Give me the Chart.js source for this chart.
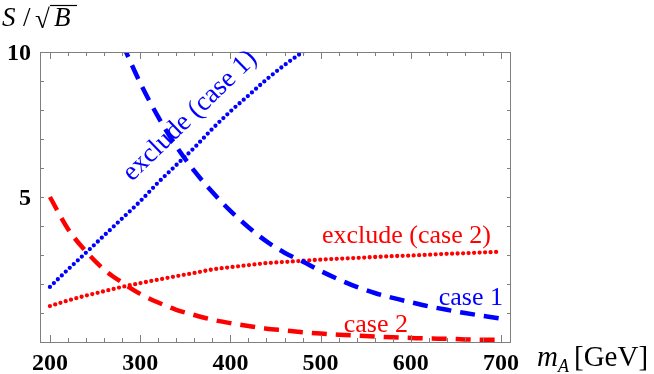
<!DOCTYPE html>
<html>
<head>
<meta charset="utf-8">
<script src="https://cdn.jsdelivr.net/npm/chart.js@4/dist/chart.umd.min.js"></script>
<style>
  html, body { margin: 0; padding: 0; background: #fff; }
  #wrap { width: 654px; height: 374px; position: relative; }
</style>
</head>
<body>
<div id="wrap"><canvas id="chart"></canvas></div>
<script>
// data
const massCase1 = [280, 300, 320, 340, 360, 380, 400, 420, 440, 460, 480, 500, 520, 540, 560, 580, 600, 620, 640, 660, 680, 700];
const case1 = [10.3, 8.94, 7.76, 6.75, 5.9, 5.17, 4.52, 3.96, 3.47, 3.08, 2.78, 2.45, 2.16, 1.9, 1.69, 1.52, 1.37, 1.23, 1.11, 1.0, 0.9, 0.81];

const massExcl1 = [200, 220, 240, 260, 280, 300, 320, 340, 360, 380, 400, 420, 440, 460, 480, 500];
const exclude1 = [1.9, 2.5, 3.08, 3.67, 4.26, 4.85, 5.5, 6.1, 6.7, 7.35, 7.95, 8.5, 9.05, 9.55, 10.0, 10.45];

const mass = [200, 220, 240, 260, 280, 300, 320, 340, 360, 380, 400, 420, 440, 460, 480, 500, 520, 540, 560, 580, 600, 620, 640, 660, 680, 700];
const case2 = [5.0, 3.9, 3.12, 2.5, 2.05, 1.66, 1.36, 1.11, 0.93, 0.77, 0.65, 0.55, 0.46, 0.4, 0.34, 0.29, 0.25, 0.22, 0.19, 0.16, 0.14, 0.12, 0.11, 0.09, 0.08, 0.07];
const exclude2 = [1.24, 1.43, 1.6, 1.75, 1.9, 2.03, 2.15, 2.27, 2.38, 2.5, 2.58, 2.65, 2.72, 2.76, 2.8, 2.84, 2.87, 2.9, 2.93, 2.96, 2.98, 3.01, 3.04, 3.06, 3.09, 3.11];

const xTickLabels = [200, 300, 400, 500, 600, 700];
const yTickLabels = [5, 10];

const BLUE = '#0000ff';
const RED = '#ff0000';
const FRAME = '#7f7f7f';

function pts(xs, ys) {
    return xs.map((x, i) => ({ x: x, y: ys[i] }));
}

// frame, inward ticks, tick labels and annotations
const decorations = {
    id: 'decorations',
    afterDatasetsDraw(chart) {
        const ctx = chart.ctx;
        const a = chart.chartArea;
        const xs = chart.scales.x, ys = chart.scales.y;
        ctx.save();
        ctx.strokeStyle = FRAME;
        ctx.lineWidth = 1;
        ctx.strokeRect(a.left + 0.5, a.top + 0.5, a.right - a.left - 1, a.bottom - a.top);

        ctx.beginPath();
        for (let v = 200; v <= 700; v += 20) {
            const px = Math.round(xs.getPixelForValue(v)) + 0.5;
            const len = v % 100 === 0 ? 7 : 4;
            ctx.moveTo(px, a.bottom); ctx.lineTo(px, a.bottom - len);
            ctx.moveTo(px, a.top); ctx.lineTo(px, a.top + len);
        }
        for (let v = 1; v < 10; v++) {
            const py = Math.round(ys.getPixelForValue(v)) + 0.5;
            ctx.moveTo(a.left, py); ctx.lineTo(a.left + 4, py);
            ctx.moveTo(a.right, py); ctx.lineTo(a.right - 4, py);
        }
        ctx.stroke();

        // tick labels
        ctx.fillStyle = '#000';
        ctx.font = 'bold 24px "Liberation Serif"';
        ctx.textBaseline = 'alphabetic';
        ctx.textAlign = 'center';
        xTickLabels.forEach(v => ctx.fillText(String(v), xs.getPixelForValue(v), 370));
        ctx.textAlign = 'right';
        yTickLabels.forEach(v => ctx.fillText(String(v), 31, ys.getPixelForValue(v) + 8));

        // axis titles
        ctx.textAlign = 'left';
        ctx.font = 'italic 27px "Liberation Serif"';
        ctx.fillText('S', 2, 26);
        ctx.font = '27px "Liberation Serif"';
        ctx.fillText('/', 23, 26);
        ctx.fillText('\u221A', 35, 28);
        ctx.font = 'italic 27px "Liberation Serif"';
        ctx.fillText('B', 54, 26);
        ctx.beginPath();
        ctx.strokeStyle = '#000';
        ctx.lineWidth = 1.2;
        ctx.moveTo(50, 5.5); ctx.lineTo(77, 5.5);
        ctx.stroke();

        ctx.font = 'italic 29px "Liberation Serif"';
        ctx.fillText('m', 537, 366);
        ctx.font = 'italic 18px "Liberation Serif"';
        ctx.fillText('A', 558, 372);
        ctx.font = '29px "Liberation Serif"';
        ctx.fillText('[GeV]', 574, 366);

        // curve annotations
        ctx.font = '26px "Liberation Serif"';
        ctx.fillStyle = RED;
        ctx.textAlign = 'left';
        ctx.fillText('exclude (case 2)', 322, 243);
        ctx.textAlign = 'right';
        ctx.fillText('case 2', 408, 332);
        ctx.fillStyle = BLUE;
        ctx.fillText('case 1', 503, 305);
        ctx.save();
        ctx.translate(195, 121);
        ctx.rotate(-44 * Math.PI / 180);
        ctx.textAlign = 'center';
        ctx.font = '27px "Liberation Serif"';
        ctx.fillText('exclude (case 1)', 0, 0);
        ctx.restore();
        ctx.restore();
    }
};

const dashed = { borderDash: [15, 9], borderWidth: 4.5, borderCapStyle: 'butt' };
const dotted = { borderDash: [0, 5.5], borderWidth: 4.3, borderCapStyle: 'round' };

new Chart(document.getElementById('chart'), {
    type: 'line',
    data: {
        datasets: [
            Object.assign({ label: 'case 1', data: pts(massCase1, case1), borderColor: BLUE }, dashed),
            Object.assign({ label: 'exclude (case 1)', data: pts(massExcl1, exclude1), borderColor: BLUE }, dotted),
            Object.assign({ label: 'case 2', data: pts(mass, case2), borderColor: RED }, dashed),
            Object.assign({ label: 'exclude (case 2)', data: pts(mass, exclude2), borderColor: RED }, dotted)
        ]
    },
    options: {
        responsive: true,
        maintainAspectRatio: false,
        animation: false,
        layout: { padding: { left: 40, right: 143, top: 52, bottom: 32 } },
        elements: {
            point: { radius: 0 },
            line: { tension: 0.4, cubicInterpolationMode: 'monotone', fill: false }
        },
        plugins: { legend: { display: false }, tooltip: { enabled: false } },
        scales: {
            x: { type: 'linear', min: 189, max: 711, display: false },
            y: { type: 'linear', min: 0, max: 10, display: false }
        }
    },
    plugins: [decorations]
});
</script>
</body>
</html>
